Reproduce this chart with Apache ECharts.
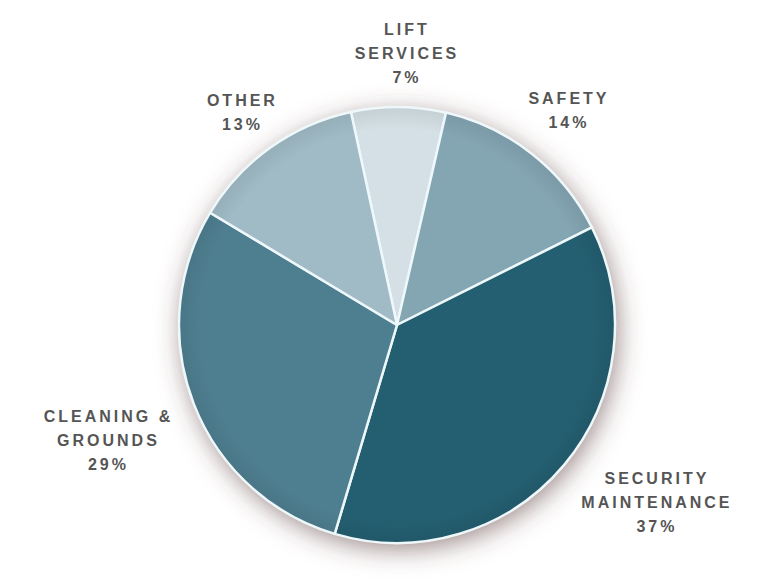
<!DOCTYPE html>
<html>
<head>
<meta charset="utf-8">
<style>
  html, body { margin: 0; padding: 0; background: #ffffff; }
  #chart { width: 772px; height: 583px; }
  /* spaced-out capitals for the slice captions */
  #chart text { letter-spacing: 3px; }
</style>
<script src="https://cdn.jsdelivr.net/npm/echarts@6/dist/echarts.min.js"></script>
</head>
<body>
<div id="chart"></div>
<script>
// Share of spend by service area (percent)
const categories = ['LIFT\nSERVICES', 'SAFETY', 'SECURITY\nMAINTENANCE', 'CLEANING &\nGROUNDS', 'OTHER'];
const shares = [7, 14, 37, 29, 13];

// Appearance
const sliceColors = ['#d4e0e5', '#84a5b2', '#245f71', '#4e7f90', '#a0bbc6'];
// caption placement: distance from the pie centre and a small angular turn (deg)
const labelRadius = [272, 275, 315, 311, 263];
const labelTurn = [1.7, 0.5, -5.6, -0.7, -0.4];

const CX = 397, CY = 325, R = 218;
const START_ANGLE = 102.2; // ECharts convention: degrees counter-clockwise from 3 o'clock

// mid-angle of every slice, clockwise from 12 o'clock, following the pie's own layout
const total = shares.reduce((s, v) => s + v, 0);
const midAngle = [];
let acc = 90 - START_ANGLE;
shares.forEach(v => {
  const sweep = v / total * 360;
  midAngle.push(acc + sweep / 2);
  acc += sweep;
});

function shade(hex, f) {
  const n = parseInt(hex.slice(1), 16);
  const c = [(n >> 16) & 255, (n >> 8) & 255, n & 255].map(x => Math.round(x * f));
  return 'rgb(' + c.join(',') + ')';
}

const chart = echarts.init(document.getElementById('chart'), null, { renderer: 'svg' });

chart.setOption({
  backgroundColor: '#ffffff',
  animation: false,
  series: [
    {
      // soft drop shadow under the whole disc
      type: 'pie',
      silent: true,
      center: [CX, CY],
      radius: R,
      label: { show: false },
      labelLine: { show: false },
      data: [{ value: 1 }],
      itemStyle: {
        color: '#ffffff',
        shadowBlur: 26,
        shadowColor: 'rgba(90, 60, 60, 0.6)',
        shadowOffsetX: 3,
        shadowOffsetY: 6
      }
    },
    {
      type: 'pie',
      center: [CX, CY],
      radius: R,
      startAngle: START_ANGLE,
      clockwise: true,
      avoidLabelOverlap: false,
      label: {
        show: true,
        position: 'outside',
        formatter: '{b}\n{c}%',
        color: '#555555',
        fontFamily: '"Liberation Sans", Arial, sans-serif',
        fontWeight: 'bold',
        fontSize: 16,
        lineHeight: 24,
        align: 'center'
      },
      labelLine: { show: false },
      labelLayout: function (p) {
        const i = p.dataIndex;
        const a = (midAngle[i] + labelTurn[i]) * Math.PI / 180;
        return {
          x: CX + labelRadius[i] * Math.sin(a),
          y: CY - labelRadius[i] * Math.cos(a),
          align: 'center',
          verticalAlign: 'middle'
        };
      },
      itemStyle: {
        borderColor: '#eef8fb',
        borderWidth: 2.5
      },
      emphasis: { disabled: true },
      data: categories.map((name, i) => ({
        name: name,
        value: shares[i],
        itemStyle: {
          // shading taken over the full disc so the rim darkens slightly
          color: {
            type: 'radial', global: true, x: CX, y: CY, r: R,
            colorStops: [
              { offset: 0, color: sliceColors[i] },
              { offset: 0.9, color: sliceColors[i] },
              { offset: 1, color: shade(sliceColors[i], 0.93) }
            ]
          }
        }
      }))
    }
  ]
});
</script>
</body>
</html>
